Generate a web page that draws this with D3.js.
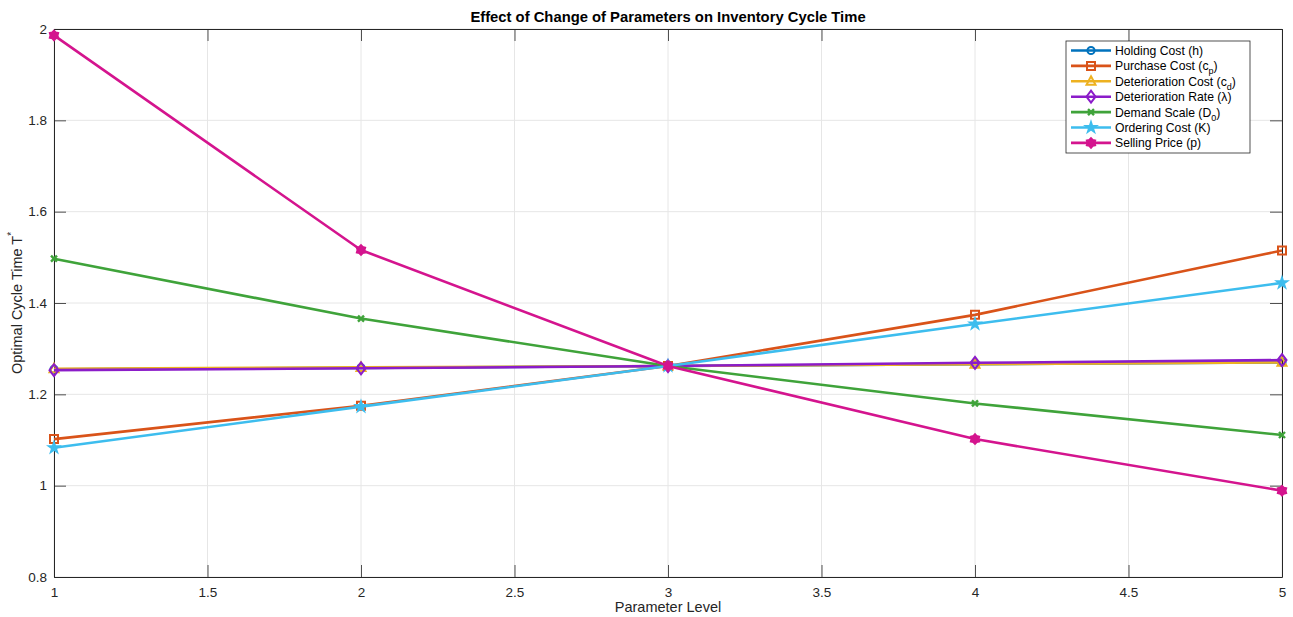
<!DOCTYPE html>
<html>
<head>
<meta charset="utf-8">
<script src="https://cdn.jsdelivr.net/npm/d3@7"></script>
<style>
  body { margin: 0; background: #fff; }
  svg { font-family: "Liberation Sans", Arial, sans-serif; }
</style>
</head>
<body>
<svg width="1293" height="617"></svg>
<script>
// parameter levels on the x axis
const levels = [1, 2, 3, 4, 5];

// optimal cycle time per parameter
const holdingCost = [1.255, 1.258, 1.262, 1.266, 1.270];
const purchaseCost = [1.102, 1.175, 1.262, 1.374, 1.515];
const deteriorationCost = [1.256, 1.259, 1.262, 1.266, 1.270];
const deteriorationRate = [1.253, 1.257, 1.262, 1.269, 1.275];
const demandScale = [1.497, 1.366, 1.262, 1.180, 1.111];
const orderingCost = [1.083, 1.173, 1.262, 1.354, 1.444];
const sellingPrice = [1.986, 1.516, 1.262, 1.102, 0.989];

const xTicks = [1, 1.5, 2, 2.5, 3, 3.5, 4, 4.5, 5];
const yTicks = [0.8, 1, 1.2, 1.4, 1.6, 1.8, 2];

const series = [
  { name: "Holding Cost (h)", sub: null, values: holdingCost, color: "#0072BD", marker: "circle", fill: false },
  { name: "Purchase Cost (c", sub: "p", tail: ")", values: purchaseCost, color: "#D95319", marker: "square", fill: false },
  { name: "Deterioration Cost (c", sub: "d", tail: ")", values: deteriorationCost, color: "#EDB120", marker: "triangle", fill: false },
  { name: "Deterioration Rate (\u03bb)", sub: null, values: deteriorationRate, color: "#8B1CC9", marker: "diamond", fill: false },
  { name: "Demand Scale (D", sub: "0", tail: ")", values: demandScale, color: "#3FA33A", marker: "cross", fill: false },
  { name: "Ordering Cost (K)", sub: null, values: orderingCost, color: "#3DBDEE", marker: "star", fill: true },
  { name: "Selling Price (p)", sub: null, values: sellingPrice, color: "#D4148E", marker: "hexagram", fill: true },
];

const margin = { left: 54, right: 11, top: 29, bottom: 40 };
const width = 1293;
const height = 617;

const svg = d3.select("svg");

const x = d3.scaleLinear().domain([1, 5]).range([margin.left, width - margin.right]);
const y = d3.scaleLinear().domain([0.8, 2]).range([height - margin.bottom, margin.top]);

// grid
svg.append("g")
  .selectAll("line")
  .data(xTicks)
  .enter()
  .append("line")
  .attr("x1", (d) => x(d)).attr("x2", (d) => x(d))
  .attr("y1", y(0.8)).attr("y2", y(2))
  .attr("stroke", "#e6e6e6").attr("stroke-width", 1);

svg.append("g")
  .selectAll("line")
  .data(yTicks)
  .enter()
  .append("line")
  .attr("x1", x(1)).attr("x2", x(5))
  .attr("y1", (d) => y(d)).attr("y2", (d) => y(d))
  .attr("stroke", "#e6e6e6").attr("stroke-width", 1);

// axes, ticks pointing inward
const fmt = (d) => String(d);
const xAxis = svg.append("g")
  .attr("transform", `translate(0,${y(0.8)})`)
  .call(d3.axisBottom(x).tickValues(xTicks).tickFormat(fmt).tickSizeInner(-12).tickSizeOuter(0).tickPadding(16));
const yAxis = svg.append("g")
  .attr("transform", `translate(${x(1)},0)`)
  .call(d3.axisLeft(y).tickValues(yTicks).tickFormat(fmt).tickSizeInner(-12).tickSizeOuter(0).tickPadding(7));
const xTop = svg.append("g")
  .attr("transform", `translate(0,${y(2)})`)
  .call(d3.axisTop(x).tickValues(xTicks).tickFormat("").tickSizeInner(-12).tickSizeOuter(0));
const yRight = svg.append("g")
  .attr("transform", `translate(${x(5)},0)`)
  .call(d3.axisRight(y).tickValues(yTicks).tickFormat("").tickSizeInner(-12).tickSizeOuter(0));

[xAxis, yAxis, xTop, yRight].forEach((g) => {
  g.selectAll("path").attr("stroke", "#262626").attr("stroke-width", 1);
  g.selectAll("line").attr("stroke", "#262626").attr("stroke-width", 0.8);
  g.selectAll("text").attr("fill", "#262626").attr("font-size", 13.5).attr("font-family", "Liberation Sans, Arial, sans-serif");
});
xAxis.selectAll("text").attr("dy", "0.3em");

// markers
const hexagramPath = (r) => {
  const pts = [];
  for (let i = 0; i < 12; i++) {
    const a = (Math.PI / 6) * i - Math.PI / 2;
    const rr = i % 2 === 0 ? r : r * 0.72;
    pts.push([rr * Math.cos(a), rr * Math.sin(a)]);
  }
  return "M" + pts.map((p) => p.join(",")).join("L") + "Z";
};

const markerPath = (type) => {
  switch (type) {
    case "circle":
      return d3.symbol().type(d3.symbolCircle).size(40)();
    case "square":
      return "M-4,-4L4,-4L4,4L-4,4Z";
    case "triangle":
      return "M0,-5L4.5,3.5L-4.5,3.5Z";
    case "diamond":
      return "M0,-6L4.5,0L0,6L-4.5,0Z";
    case "cross":
      return "M-3,-3L3,3M-3,3L3,-3";
    case "star":
      return d3.symbol().type(d3.symbolStar).size(30)();
    case "hexagram":
      return hexagramPath(4.8);
  }
};

const line = d3.line().x((d, i) => x(levels[i])).y((d) => y(d));

const plot = svg.append("g");
series.forEach((s) => {
  const g = plot.append("g");
  g.append("path")
    .datum(s.values)
    .attr("d", line)
    .attr("fill", "none")
    .attr("stroke", s.color)
    .attr("stroke-width", 2.6)
    .attr("stroke-linejoin", "round");
  g.selectAll("path.mk")
    .data(s.values)
    .enter()
    .append("path")
    .attr("class", "mk")
    .attr("d", markerPath(s.marker))
    .attr("transform", (d, i) => `translate(${x(levels[i])},${y(d)})`)
    .attr("fill", s.fill ? s.color : "none")
    .attr("stroke", s.color)
    .attr("stroke-width", s.marker === "cross" ? 2.4 : 2);
});

// title and labels
svg.append("text")
  .attr("x", (x(1) + x(5)) / 2)
  .attr("y", 22)
  .attr("text-anchor", "middle")
  .attr("font-size", 14.8)
  .attr("font-weight", "bold")
  .attr("fill", "#000")
  .text("Effect of Change of Parameters on Inventory Cycle Time");

svg.append("text")
  .attr("x", (x(1) + x(5)) / 2)
  .attr("y", 612)
  .attr("text-anchor", "middle")
  .attr("font-size", 14.5)
  .attr("fill", "#262626")
  .text("Parameter Level");

const yLabel = svg.append("text")
  .attr("transform", `translate(22,${(y(0.8) + y(2)) / 2}) rotate(-90)`)
  .attr("text-anchor", "middle")
  .attr("font-size", 14.5)
  .attr("fill", "#262626");
yLabel.append("tspan").text("Optimal Cycle Time  T");
yLabel.append("tspan").attr("dy", -7).attr("font-size", 10).text("*");

// legend
const legendX = 1066;
const legendY = 41;
const rowH = 15.4;
svg.append("rect")
  .attr("x", legendX).attr("y", legendY)
  .attr("width", 184).attr("height", 112)
  .attr("fill", "#fff")
  .attr("stroke", "#262626").attr("stroke-width", 0.8);

const legend = svg.append("g")
  .selectAll("g")
  .data(series)
  .enter()
  .append("g")
  .attr("transform", (d, i) => `translate(${legendX},${legendY + 9.5 + i * rowH})`);

legend.append("line")
  .attr("x1", 5).attr("x2", 45)
  .attr("stroke", (d) => d.color)
  .attr("stroke-width", 2.6);

legend.append("path")
  .attr("d", (d) => markerPath(d.marker))
  .attr("transform", "translate(25,0)")
  .attr("fill", (d) => (d.fill ? d.color : "none"))
  .attr("stroke", (d) => d.color)
  .attr("stroke-width", (d) => (d.marker === "cross" ? 2.4 : 2));

const legendText = legend.append("text")
  .attr("x", 49)
  .attr("y", 4.5)
  .attr("font-size", 12.2)
  .attr("fill", "#000");
legendText.append("tspan").text((d) => d.name);
legendText.filter((d) => d.sub)
  .append("tspan").attr("dy", 4).attr("font-size", 9).text((d) => d.sub);
legendText.filter((d) => d.sub)
  .append("tspan").attr("dy", -4).text((d) => d.tail);
</script>
</body>
</html>
